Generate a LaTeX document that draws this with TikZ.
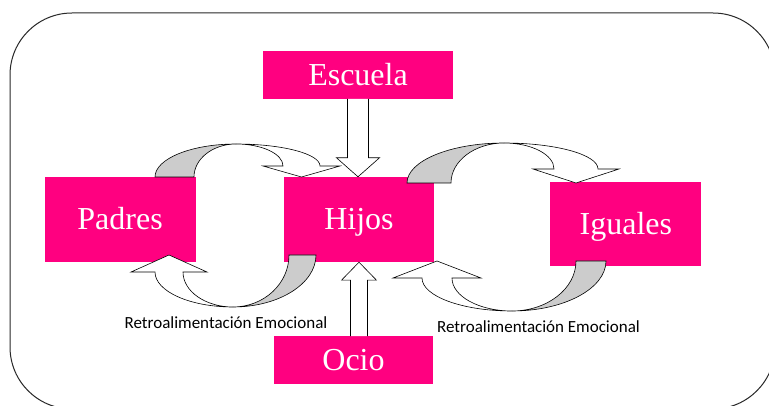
\documentclass[tikz,border=0pt]{standalone}
\usepackage{fontspec}
\setmainfont{Liberation Serif}
\newfontfamily\notefont{Carlito}
\usetikzlibrary{positioning,calc}

\definecolor{boxpink}{RGB}{255,0,128}
\definecolor{framegray}{RGB}{40,40,40}

% curved band arrow: #1 scope options, #2 back outer, #3 back inner,
% #4 depth, #5 head base, #6 front inner, #7 front outer, #8 head overhang
\newcommand{\ribbon}[8]{%
  \begin{scope}[#1]
    \draw[ribbonback] (-#2,#4) .. controls (-#2,0.448*#4) and (-0.552*#2,0) .. (0,0)
      .. controls (-0.552*#3,0) and (-#3,0.448*#4) .. (-#3,#4) -- cycle;
    \draw[ribbonfront] (0,0) .. controls (0.552*#7,0) and (#7,0.448*#5) .. (#7,#5)
      -- ({#7+#8},#5) -- ({(#6+#7)/2},#4) -- ({#6-#8},#5) -- (#6,#5)
      .. controls (#6,0.448*#5) and (0.552*#6,0) .. (0,0) -- cycle;
  \end{scope}}

\begin{document}
\begin{tikzpicture}[x=1pt, y=-1pt]

% Define styles
\tikzset{
  box/.style={fill=boxpink, text=white, inner sep=0pt, minimum width=151pt,
    minimum height=85pt, text height=21pt, text depth=0pt,
    font=\fontsize{32}{38}\selectfont},
  hollow/.style={draw=black, fill=white, line width=0.6pt, line join=miter},
  ribbonback/.style={draw=black, fill=gray!40, line width=0.6pt},
  ribbonfront/.style={draw=black, fill=white, line width=0.6pt},
  note/.style={inner sep=0pt, font=\notefont\fontsize{17}{20}\selectfont},
  frame/.style={draw=framegray, line width=1pt, rounded corners=62pt}
}

\useasboundingbox (0,0) rectangle (769,406);
\draw[frame] (10,13) rectangle (775,409);

% Nodes
\node [box, minimum width=150pt] (hijos) at (359,219.5) {Hijos};
\node [box, left=88pt of hijos] (padres) {Padres};
\node [box, minimum height=84pt, right=116pt of hijos, yshift=-4.5pt] (iguales) {Iguales};
\node [box, minimum width=190pt, minimum height=48pt, above=78pt of hijos, xshift=-1pt] (escuela) {Escuela};
\node [box, minimum width=159pt, minimum height=48pt, below=74pt of hijos, xshift=-5.5pt] (ocio) {Ocio};

% Straight arrows
\draw [hollow] ($(escuela.south)+(-10.5,0)$) -- ($(escuela.south |- hijos.north)+(-10.5,-19)$)
  -- ++(-11,0) -- (escuela.south |- hijos.north) -- ++(21.5,-19) -- ++(-11,0)
  -- ($(escuela.south)+(10.5,0)$);
\draw [hollow] ($(hijos.south |- ocio.north)+(-8.5,0)$) -- ($(hijos.south)+(-8.5,18)$)
  -- ++(-9,0) -- (hijos.south) -- ++(17.5,18) -- ++(-9,0)
  -- ($(hijos.south |- ocio.north)+(8.5,0)$);

% Curved arrows
\coordinate (topleft) at (236,144);
\coordinate (topright) at (504,143);
\coordinate (botleft) at (233,307);
\coordinate (botright) at (512,311);
\ribbon{shift={(topleft)}}{81}{42}{33}{22}{47}{84}{20}
\ribbon{shift={(topright)}}{97}{53}{40}{26}{50}{94}{21}
\ribbon{shift={(botleft)},rotate=180}{83}{56}{52}{35}{50}{78}{24}
\ribbon{shift={(botright)},rotate=180}{94}{64}{50}{33}{60}{90}{29}

% Labels
\node [note] (fbleft) at (226,323) {Retroalimentación Emocional};
\node [note] (fbright) at (538.5,327) {Retroalimentación Emocional};

\end{tikzpicture}
\end{document}
